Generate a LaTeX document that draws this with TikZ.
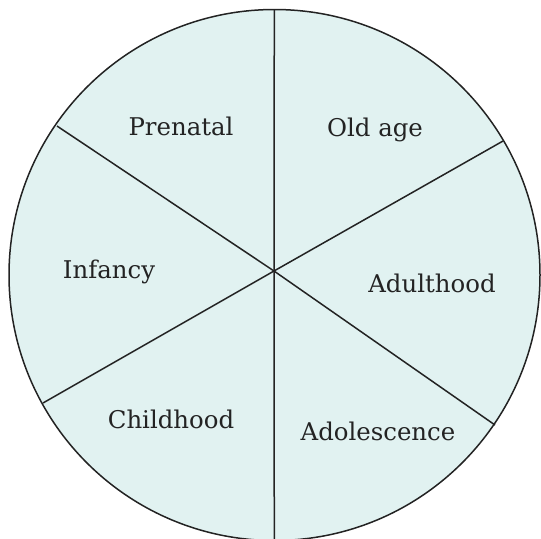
\documentclass[tikz,border=0pt]{standalone}
\usepackage{fontspec}
\setmainfont{DejaVu Serif}
\definecolor{pie}{RGB}{225,242,241}
\definecolor{ink}{RGB}{35,35,35}
\tikzset{
  stage/.style={text=ink, font=\fontsize{12.2}{14}\selectfont, inner sep=0pt},
  rim/.style={draw=ink, line width=.75pt}
}
\begin{document}
\begin{tikzpicture}[x=.5pt, y=-.5pt]
        \useasboundingbox (0,0) rectangle (541,538);
        \coordinate (c) at (274.5,275);
        \coordinate (hub) at (274,271);
        \draw[rim, fill=pie] (c) circle (265.5);

        \coordinate (top) at (274.3,9.5);
        \coordinate (bot) at (274.3,545);
        \coordinate (ul) at (57,126);
        \coordinate (ur) at (503,141);
        \coordinate (ll) at (43,403);
        \coordinate (lr) at (495,425);
        \foreach \e in {top,bot,ul,ur,ll,lr}
            \draw[rim] (hub)--(\e);

        \node[stage] (prenatal) at (181,126) {Prenatal};
        \node[stage] (oldage) at (375,130) {Old age};
        \node[stage] (infancy) at (109,272) {Infancy};
        \node[stage] (adult) at (432,283) {Adulthood};
        \node[stage] (child) at (171,419) {Childhood};
        \node[stage] (adol) at (378,431) {Adolescence};
    \end{tikzpicture}
\end{document}
